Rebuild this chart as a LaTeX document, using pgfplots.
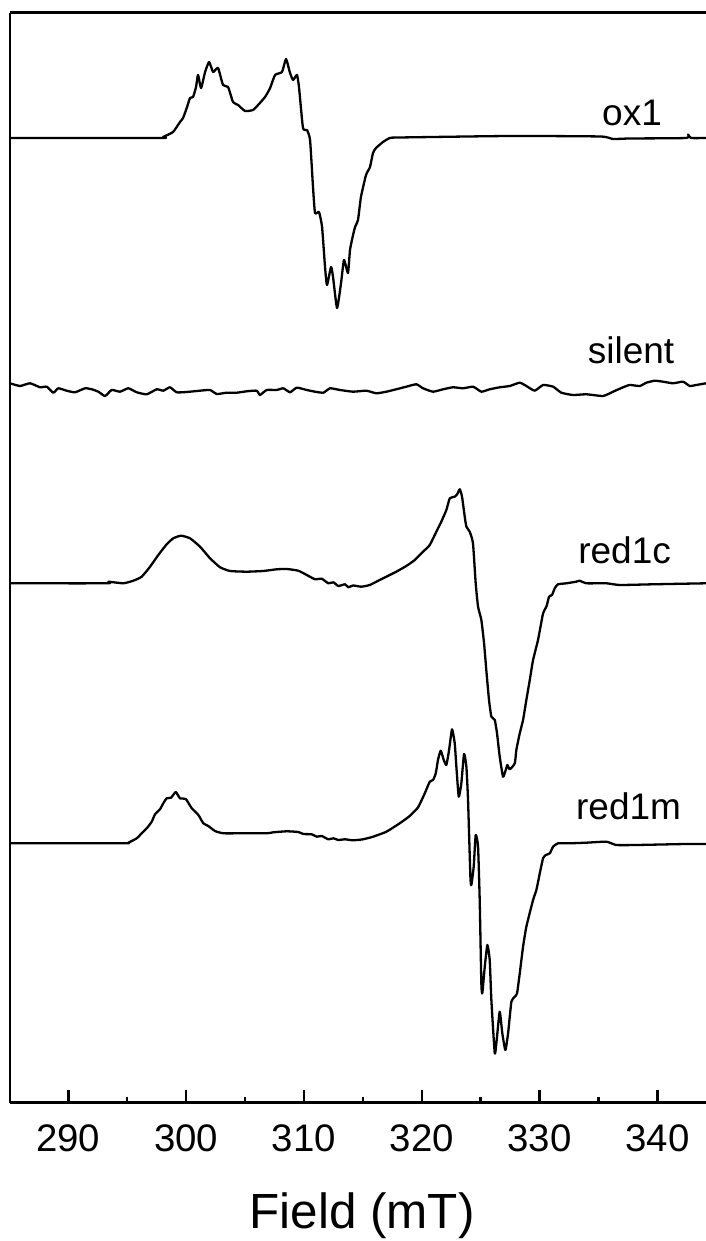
\documentclass[border=0pt]{standalone}
\usepackage{pgfplots}
\pgfplotsset{compat=1.18}
\usepackage{fontspec}
\setmainfont{Liberation Sans}
\begin{document}
\begin{tikzpicture}
\begin{axis}[
  name=ax,
  at={(0,0)}, anchor=south west,
  scale only axis,
  width=348pt, height=545pt,
  xmin=285.05, xmax=344.13,
  ymin=-1102.7, ymax=-12.7,
  axis x line=box, axis y line=left,
  axis line style={-, line width=1.3pt},
  xtick={290,300,310,320,330,340},
  minor x tick num=1,
  xtick pos=left,
  ytick=\empty,
  tick align=inside,
  major tick length=6.5pt,
  minor tick length=3pt,
  every tick/.style={black, line width=1.2pt},
  /pgf/number format/assume math mode=true,
  xticklabel style={font=\fontsize{19.2}{23}\selectfont, anchor=base, yshift=-24.5pt},
  xlabel={Field (mT)},
  xlabel style={at={(rel axis cs:0.506,0)}, anchor=base, yshift=-62.8pt, font=\fontsize{24.7}{30}\selectfont},
  spec/.style={black, solid, mark=none, line width=1.15pt, line join=round, smooth, tension=0.3},
]
% ox1
\addplot[spec] coordinates {(285.05,-138)(297.78,-138)(298.04,-137)(298.89,-132)(299.48,-122)(299.74,-118)(300.08,-107)(300.33,-98)(300.59,-97)(300.84,-87)(301.01,-75)(301.27,-88)(301.61,-72)(301.95,-62)(302.29,-72)(302.71,-68)(303.13,-85)(303.56,-87)(303.98,-102)(304.41,-105)(305.00,-111)(305.68,-110)(306.11,-105)(306.70,-97)(307.13,-88)(307.55,-75)(308.14,-72)(308.48,-59)(308.82,-73)(309.08,-80)(309.41,-75)(309.58,-87)(309.92,-128)(310.26,-130)(310.52,-140)(310.77,-187)(310.94,-213)(311.28,-212)(311.54,-227)(311.79,-267)(311.96,-285)(312.30,-267)(312.47,-277)(312.81,-308)(313.15,-283)(313.40,-260)(313.74,-273)(313.91,-250)(314.17,-235)(314.34,-227)(314.59,-220)(314.84,-197)(315.27,-175)(315.61,-167)(315.86,-153)(316.12,-148)(316.71,-142)(317.30,-138)(318.15,-137.5)(327.50,-136)(335.14,-136.5)(336.24,-139)(337.68,-138.5)(342.44,-138)(342.61,-134.5)(342.86,-138)(344.13,-138)};
% silent
\addplot[spec] coordinates {(285.05,-383.3)(285.90,-386)(286.75,-383.3)(287.60,-387.3)(288.17,-386.7)(288.73,-392.7)(289.15,-388.3)(289.86,-390.7)(290.57,-392.3)(291.42,-388.3)(291.99,-389.3)(292.55,-391.7)(293.12,-396)(293.68,-390)(294.39,-391.7)(295.09,-388.3)(295.81,-392.3)(296.66,-394.3)(297.50,-389.3)(298.06,-390.7)(298.63,-387.3)(299.20,-392.3)(300.05,-392)(301.18,-390.7)(302.03,-390)(302.60,-394)(303.45,-392.7)(304.30,-392.7)(305.14,-391.3)(305.99,-390.7)(306.27,-395)(306.84,-390)(307.69,-390)(308.25,-388.3)(308.82,-392.3)(309.39,-387.7)(310.24,-390)(310.94,-391.7)(311.65,-392.7)(312.22,-388.3)(313.06,-390)(314.17,-391.7)(315.30,-390.7)(316.15,-393.3)(317.00,-391.7)(317.84,-389.3)(318.69,-386.7)(319.54,-384.3)(320.11,-388.3)(320.96,-391.7)(321.81,-389.3)(322.66,-387.3)(323.51,-388.3)(324.36,-386.7)(325.06,-391.7)(325.77,-389.3)(326.62,-387.3)(327.47,-386)(328.32,-382.7)(328.88,-386)(329.59,-390.7)(330.30,-385)(331.15,-386.7)(331.85,-392.7)(332.84,-395)(333.97,-394.3)(335.39,-396)(336.24,-391.7)(337.09,-387.3)(337.66,-385)(338.51,-386)(339.07,-382.7)(339.78,-380.7)(340.48,-381.7)(341.33,-383.3)(342.18,-381.7)(342.75,-386)(343.31,-385)(344.13,-383.3)};
% red1c
\addplot[spec] coordinates {(285.05,-583.3)(293.26,-583.3)(293.40,-581.7)(294.67,-583.3)(295.52,-580.7)(296.23,-576.7)(296.94,-566.7)(297.64,-555)(298.35,-544.3)(298.91,-538.3)(299.57,-535.7)(300.33,-538.3)(301.18,-546.7)(302.03,-558.3)(302.88,-567.3)(303.73,-571)(305.14,-571.7)(306.55,-571)(307.69,-569.3)(308.54,-569)(309.52,-570.7)(310.24,-575)(310.94,-579.3)(311.51,-578.7)(312.07,-583.3)(312.50,-582.3)(312.92,-586)(313.49,-584.3)(313.77,-587.3)(314.17,-585.5)(314.87,-586.7)(315.59,-585)(316.43,-580)(317.00,-576.7)(317.84,-571.7)(318.69,-566)(319.41,-560)(320.11,-551.7)(320.68,-545)(321.24,-531.7)(321.66,-521.7)(322.09,-510)(322.38,-498.3)(322.80,-496.7)(323.02,-494)(323.23,-489.3)(323.42,-496.7)(323.65,-516.7)(323.79,-526.7)(324.07,-531.7)(324.35,-543.3)(324.58,-583.3)(324.78,-606.7)(325.06,-620)(325.29,-643.3)(325.48,-670)(325.71,-700)(325.91,-716.7)(326.20,-720)(326.39,-733.3)(326.62,-756.7)(326.90,-776.7)(327.13,-770)(327.27,-765)(327.47,-769.3)(327.90,-763.3)(328.03,-750)(328.32,-733.3)(328.60,-720)(328.88,-700)(329.17,-680)(329.45,-660)(329.87,-640)(330.30,-613.3)(330.58,-606.7)(330.81,-596.7)(331.06,-595)(331.29,-588.3)(331.57,-584.3)(332.28,-583.3)(333.12,-581.7)(333.41,-580.7)(333.97,-583.3)(335.67,-583.3)(336.81,-585)(339.64,-584.3)(344.13,-583.3)};
% red1m
\addplot[spec] coordinates {(285.05,-843.3)(294.67,-843.3)(295.09,-842.7)(295.81,-838.3)(296.23,-833.3)(296.66,-828.3)(297.08,-821.7)(297.36,-814.3)(297.78,-809.3)(298.06,-803.3)(298.35,-798.3)(298.72,-797.7)(299.12,-792)(299.48,-798.3)(299.97,-799)(300.48,-808.3)(301.04,-815)(301.46,-823.3)(301.88,-826)(302.45,-831)(303.16,-833.3)(304.58,-833.3)(306.84,-833.3)(307.40,-832.3)(308.54,-831.3)(309.52,-832)(309.95,-834)(310.66,-834.3)(311.09,-836.7)(311.51,-836)(312.07,-839.3)(312.50,-838.3)(312.92,-840)(313.49,-839.3)(314.17,-840.3)(315.02,-839.3)(315.87,-836.7)(317.00,-831.7)(318.13,-823.3)(318.98,-816)(319.69,-807.3)(320.26,-793.3)(320.68,-781.7)(320.96,-780)(321.19,-773.3)(321.38,-760)(321.61,-750.7)(321.87,-760)(322.09,-765)(322.32,-750)(322.57,-729.3)(322.80,-743.3)(322.94,-766.7)(323.14,-796.7)(323.36,-783.3)(323.59,-754)(323.79,-766.7)(323.93,-800)(324.13,-876.7)(324.21,-885)(324.41,-866.7)(324.58,-835)(324.78,-846.7)(324.92,-900)(325.06,-983.3)(325.14,-993.3)(325.35,-966.7)(325.57,-945)(325.77,-960)(325.91,-1000)(326.20,-1053.3)(326.39,-1036.7)(326.62,-1011.7)(326.84,-1033.3)(327.10,-1050)(327.33,-1033.3)(327.61,-1001.7)(327.90,-996.7)(328.09,-993.3)(328.32,-973.3)(328.60,-946.7)(328.88,-926.7)(329.45,-900)(329.73,-890)(330.02,-873.3)(330.30,-858.3)(330.53,-855)(330.87,-853.3)(331.15,-846.7)(331.57,-843.3)(332.56,-843.3)(333.97,-842.7)(335.67,-841.7)(336.52,-845)(338.22,-845)(342.46,-844)(344.13,-844)};
\node[anchor=base, font=\fontsize{18.5}{22}\selectfont, inner sep=0pt] at (axis cs:337.85,-126) {ox1};
\node[anchor=base, font=\fontsize{18.5}{22}\selectfont, inner sep=0pt] at (axis cs:337.77,-364) {silent};
\node[anchor=base, font=\fontsize{18.5}{22}\selectfont, inner sep=0pt] at (axis cs:337.22,-563.5) {red1c};
\node[anchor=base, font=\fontsize{18.5}{22}\selectfont, inner sep=0pt] at (axis cs:337.56,-819.3) {red1m};
\end{axis}
\pgfresetboundingbox
\path[use as bounding box] ([xshift=-5pt,yshift=-69.15pt]ax.south west) rectangle ([yshift=6.35pt]ax.north east);
\end{tikzpicture}
\end{document}
